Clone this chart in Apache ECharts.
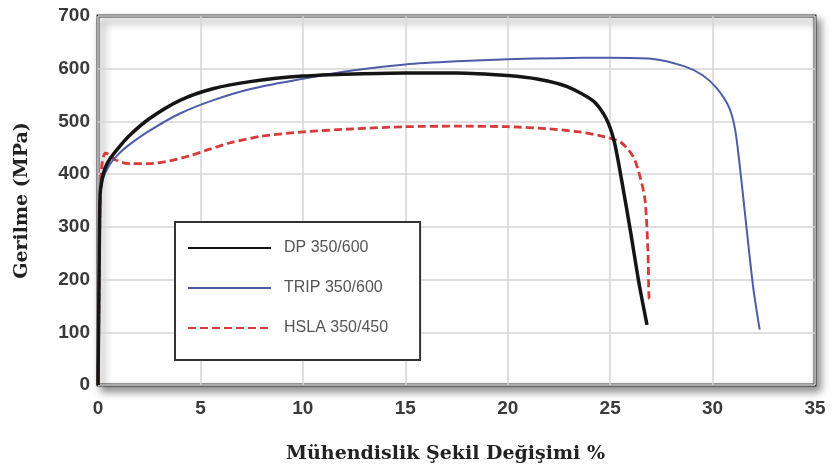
<!DOCTYPE html>
<html style="height: 100%">
<head>
    <meta charset="utf-8">
</head>
<body style="height: 100%; margin: 0; background: #fff">
<div id="container" style="width: 834px; height: 472px"></div>
<script type="text/javascript" src="https://cdn.jsdelivr.net/npm/echarts@6/dist/echarts.min.js"></script>
<script type="text/javascript">
    // strain (%) / stress (MPa)
    var dpStrain = [0, 0.05, 0.1, 0.2, 0.35, 0.6, 1, 1.5, 2.5, 4, 5.6, 7.5, 10, 12.5, 15, 17.5, 20, 21.5, 22.9, 24.2, 24.8, 25.2, 25.6, 26, 26.4, 26.8];
    var dpStress = [0, 200, 360, 390, 412, 430, 450, 472, 505, 540, 562, 576, 586, 590, 592, 592, 587, 580, 566, 538, 506, 462, 380, 290, 195, 114];

    var tripStrain = [0, 0.05, 0.1, 0.2, 0.35, 0.6, 1, 1.5, 2.5, 4, 5.6, 7.5, 10, 12.5, 15, 17.5, 20, 22.5, 25, 27, 28.6, 29.5, 30.2, 30.8, 31.1, 31.3, 31.5, 31.75, 32, 32.3];
    var tripStress = [0, 190, 355, 385, 402, 420, 438, 455, 482, 515, 540, 562, 581, 597, 608, 614, 618, 620, 621, 619, 605, 588, 563, 527, 485, 425, 355, 265, 180, 105];

    var hslaStrain = [0, 0.05, 0.1, 0.2, 0.35, 0.5, 0.8, 1.2, 1.6, 2.5, 3.5, 4.5, 5.5, 6.5, 8, 10, 12.5, 15, 17.5, 20, 22, 23.5, 24.5, 25.5, 26.1, 26.4, 26.7, 26.85, 26.9, 27];
    var hslaStress = [0, 150, 340, 420, 440, 438, 428, 422, 420, 420, 425, 435, 448, 460, 472, 480, 486, 490, 491, 490, 486, 480, 473, 461, 435, 404, 352, 250, 165, 160];

    var seriesNames = ['DP 350/600', 'TRIP 350/600', 'HSLA 350/450'];

    function zip(xs, ys) {
        var out = [];
        for (var i = 0; i < xs.length; i++) out.push([xs[i], ys[i]]);
        return out;
    }

    var dom = document.getElementById("container");
    var myChart = echarts.init(dom);

    var tickFont = {
        fontFamily: 'Liberation Sans',
        fontWeight: 'bold',
        fontSize: 19,
        color: '#3a3a3a'
    };
    var titleFont = {
        fontFamily: 'DejaVu Serif',
        fontWeight: 'bold',
        fontSize: 19,
        color: '#222'
    };

    option = {
        animation: false,
        backgroundColor: '#fff',
        grid: {
            left: 98,
            right: 19,
            top: 16,
            bottom: 87,
            show: true,
            backgroundColor: '#fff',
            borderColor: '#333',
            borderWidth: 3,
            shadowColor: 'rgba(0,0,0,0.45)',
            shadowBlur: 8,
            shadowOffsetX: 4,
            shadowOffsetY: 5
        },
        legend: {
            orient: 'vertical',
            left: 175,
            top: 222,
            data: seriesNames,
            backgroundColor: '#fff',
            borderColor: '#333',
            borderWidth: 2,
            padding: [18, 32, 24, 12],
            itemWidth: 83,
            itemHeight: 14,
            itemGap: 24,
            itemStyle: {opacity: 0},
            textStyle: {
                fontFamily: 'Liberation Sans',
                fontSize: 16,
                color: '#555',
                padding: [0, 0, 0, 8]
            }
        },
        xAxis: {
            type: 'value',
            min: 0,
            max: 35,
            interval: 5,
            name: 'Mühendislik Şekil Değişimi %',
            nameLocation: 'middle',
            nameGap: 60,
            nameTextStyle: Object.assign({padding: [0, 22, 0, 0]}, titleFont),
            axisLine: {show: false},
            axisTick: {show: false},
            axisLabel: Object.assign({margin: 14}, tickFont),
            splitLine: {lineStyle: {color: '#d4d4d4', width: 1.5}}
        },
        yAxis: {
            type: 'value',
            min: 0,
            max: 700,
            interval: 100,
            name: 'Gerilme (MPa)',
            nameLocation: 'middle',
            nameGap: 66,
            nameTextStyle: titleFont,
            axisLine: {show: false},
            axisTick: {show: false},
            axisLabel: Object.assign({margin: 8}, tickFont),
            splitLine: {lineStyle: {color: '#d4d4d4', width: 1.5}}
        },
        series: [
            {
                name: seriesNames[0],
                type: 'line',
                data: zip(dpStrain, dpStress),
                symbol: 'none',
                smooth: 0.25,
                z: 4,
                itemStyle: {color: '#151515'},
                lineStyle: {color: '#151515', width: 3.5}
            },
            {
                name: seriesNames[1],
                type: 'line',
                data: zip(tripStrain, tripStress),
                symbol: 'none',
                smooth: 0.25,
                z: 3,
                itemStyle: {color: '#4d5ca8'},
                lineStyle: {color: '#4d5ca8', width: 2}
            },
            {
                name: seriesNames[2],
                type: 'line',
                data: zip(hslaStrain, hslaStress),
                symbol: 'none',
                smooth: 0.25,
                z: 2,
                itemStyle: {color: '#d63a3a'},
                lineStyle: {color: '#d63a3a', width: 2.8, type: [8, 4]}
            }
        ]
    };

    if (option && typeof option === "object") {
        myChart.setOption(option, true);
    }
</script>
</body>
</html>
